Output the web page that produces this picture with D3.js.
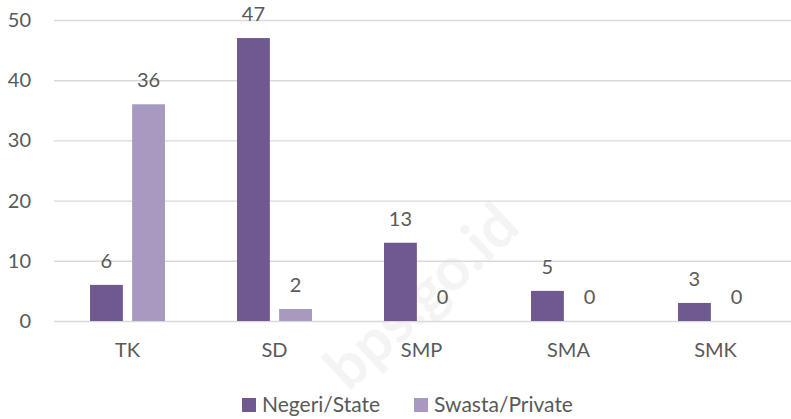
<!DOCTYPE html>
<html><head><meta charset="utf-8">
<script src="https://cdn.jsdelivr.net/npm/d3@7/dist/d3.min.js"></script>
<style>body{margin:0;background:#fff}svg{display:block}text{font-family:Lato,"Open Sans",sans-serif;fill:#595959}</style>
</head><body>
<svg id="c" width="791" height="419"></svg>
<script>
const categories = ["TK","SD","SMP","SMA","SMK"];
const seriesNames = ["Negeri/State","Swasta/Private"];
const negeri = [6,47,13,5,3];
const swasta = [36,2,0,0,0];
const yTicks = [0,10,20,30,40,50];
const colors = ["#705890","#a899c0"];

const svg = d3.select("#c");
const m = {l:54, r:789, t:20, b:321};
const x0 = d3.scaleBand().domain(categories).range([m.l,m.r]).paddingInner(0.49).paddingOuter(0.245);
const x1 = d3.scaleBand().domain(seriesNames).range([0,x0.bandwidth()]).paddingInner(0.22);
const y = d3.scaleLinear().domain([0,50]).range([m.b,m.t]);

// watermark
svg.append("text").attr("transform","translate(425,300) rotate(-43)")
  .attr("text-anchor","middle").attr("dominant-baseline","middle")
  .style("font-size","60px").style("font-weight","bold")
  .style("fill","#000").style("opacity",0.04).text("bps.go.id");

// grid
const yAxis = d3.axisLeft(y).tickValues(yTicks).tickSize(-(m.r-m.l+2)).tickPadding(23);
const ga = svg.append("g").attr("transform",`translate(${m.l},0)`).call(yAxis);
ga.select(".domain").remove();
ga.selectAll(".tick line").attr("stroke","#d9d9d9").attr("stroke-width",1.4);
ga.selectAll(".tick text").style("font-size","20px").style("fill","#595959").attr("font-family","Lato");

const data = categories.map((c,i)=>({c, vals:[negeri[i],swasta[i]]}));
const g = svg.append("g").selectAll("g").data(data).join("g")
  .attr("transform",d=>`translate(${x0(d.c)},0)`);
g.selectAll("rect").data(d=>d.vals.map((v,j)=>({v,s:seriesNames[j],j}))).join("rect")
  .attr("x",d=>x1(d.s)).attr("width",x1.bandwidth())
  .attr("y",d=>y(d.v)).attr("height",d=>y(0)-y(d.v)).attr("fill",d=>colors[d.j]);
g.selectAll("text.v").data(d=>d.vals.map((v,j)=>({v,s:seriesNames[j],j}))).join("text")
  .attr("class","v").attr("x",d=>x1(d.s)+x1.bandwidth()/2).attr("y",d=>y(d.v)-17)
  .attr("text-anchor","middle").style("font-size","20px").text(d=>d.v);

// x labels
const xa = d3.axisBottom(x0).tickSize(0).tickPadding(22);
const gx = svg.append("g").attr("transform",`translate(0,${m.b})`).call(xa);
gx.select(".domain").remove();
gx.selectAll(".tick text").style("font-size","20px").style("fill","#595959").attr("font-family","Lato");

// legend
const leg = svg.append("g");
const lx = [242,414];
seriesNames.forEach((s,i)=>{
  leg.append("rect").attr("x",lx[i]).attr("y",398).attr("width",14).attr("height",14).attr("fill",colors[i]);
  leg.append("text").attr("x",lx[i]+20).attr("y",412).style("font-size","21px").text(s);
});
</script>
</body></html>
